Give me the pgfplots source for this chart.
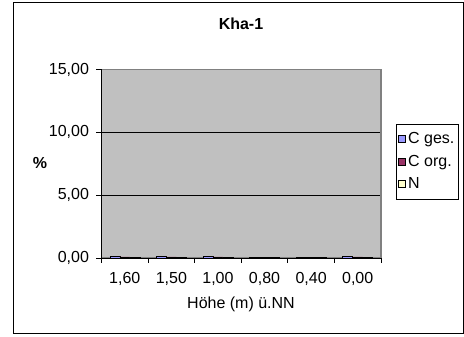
\documentclass[border=0pt]{standalone}
\usepackage{pgfplots}
\pgfplotsset{compat=1.18}
\usepackage{fontspec}
\setmainfont{Liberation Sans}
\definecolor{plotgray}{HTML}{C0C0C0}
\definecolor{bordergray}{HTML}{808080}
\definecolor{cges}{HTML}{9999FF}
\definecolor{corg}{HTML}{993366}
\definecolor{nn}{HTML}{FFFFCC}
\begin{document}
\begin{tikzpicture}
\fontsize{16}{18}\selectfont
\useasboundingbox (0pt,0pt) rectangle (464pt,337pt);
\draw[black, line width=1pt] (13pt,3pt) rectangle (463.5pt,334pt);
\begin{axis}[
  at={(101.5pt,79pt)}, anchor=south west,
  scale only axis, width=279.5pt, height=188.5pt,
  xmin=-0.5, xmax=5.5, ymin=0, ymax=15,
  axis line style={bordergray, line width=1.2pt},
  axis background/.style={fill=plotgray},
  ybar=0pt, bar width=10pt,
  xtick={0,1,2,3,4,5},
  xticklabels={{1,60},{1,50},{1,00},{0,80},{0,40},{0,00}},
  xtick pos=lower, ytick pos=lower,
  major tick length=0pt,
  ytick={0,5,10,15},
  ymajorgrids, grid style={black, line width=0.6pt},
  /pgf/number format/fixed, /pgf/number format/fixed zerofill, /pgf/number format/precision=2,
  /pgf/number format/use comma, /pgf/number format/assume math mode=true,
  ticklabel style={font=\fontsize{16}{18}\selectfont},
  xticklabel style={yshift=-9pt},
  yticklabel style={xshift=-7pt},
  legend style={at={(1.0537,0.711)}, anchor=north west, draw=black, line width=0.8pt, fill=white,
    font=\fontsize{16}{18}\selectfont, row sep=5pt, inner xsep=2pt, inner ysep=6pt,
    cells={anchor=west}},
  legend image code/.code={\draw[#1, line width=0.8pt] (0pt,-3.5pt) rectangle (7pt,3.5pt);},
  clip=false,
]
\addplot[fill=cges, draw=black, line width=0.5pt] coordinates {(0,0.15) (1,0.15) (2,0.15) (3,0.04) (4,0.04) (5,0.15)};
\addplot[fill=corg, draw=black, line width=0.5pt] coordinates {(0,0.08) (1,0.08) (2,0.08) (3,0.05) (4,0.05) (5,0.08)};
\addplot[fill=nn, draw=black, line width=0.5pt] coordinates {(0,0.02) (1,0.02) (2,0.02) (3,0.02) (4,0.02) (5,0.02)};
\legend{C ges., C org., N}
\draw[black, line width=0.8pt] (rel axis cs:0,1) -- (rel axis cs:0,0) -- (rel axis cs:1,0);
\draw[black, line width=0.8pt] (axis cs:-0.5,0) -- ++(0pt,-5pt);
\draw[black, line width=0.8pt] (axis cs:0.5,0) -- ++(0pt,-5pt);
\draw[black, line width=0.8pt] (axis cs:1.5,0) -- ++(0pt,-5pt);
\draw[black, line width=0.8pt] (axis cs:2.5,0) -- ++(0pt,-5pt);
\draw[black, line width=0.8pt] (axis cs:3.5,0) -- ++(0pt,-5pt);
\draw[black, line width=0.8pt] (axis cs:4.5,0) -- ++(0pt,-5pt);
\draw[black, line width=0.8pt] (axis cs:5.5,0) -- ++(0pt,-5pt);
\draw[black, line width=0.8pt] (axis cs:-0.5,0) -- ++(-5pt,0pt);
\draw[black, line width=0.8pt] (axis cs:-0.5,5) -- ++(-5pt,0pt);
\draw[black, line width=0.8pt] (axis cs:-0.5,10) -- ++(-5pt,0pt);
\draw[black, line width=0.8pt] (axis cs:-0.5,15) -- ++(-5pt,0pt);
\end{axis}
\node[font=\fontsize{16}{18}\selectfont\bfseries] at (241pt,313pt) {Kha-1};
\node[font=\fontsize{16}{18}\selectfont\bfseries] at (40pt,174pt) {\%};
\node[font=\fontsize{16}{18}\selectfont] at (241pt,33pt) {Höhe (m) ü.NN};
\end{tikzpicture}
\end{document}
